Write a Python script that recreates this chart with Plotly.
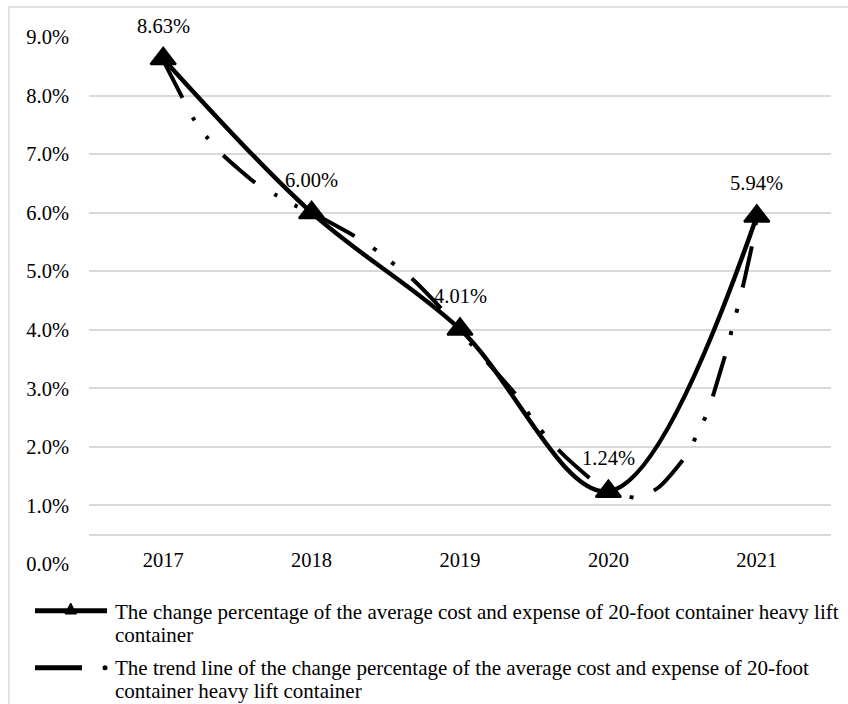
import plotly.graph_objects as go

# Yearly change percentage (%) of the average cost and expense
years = [2017, 2018, 2019, 2020, 2021]
change_pct = [8.63, 6.00, 4.01, 1.24, 5.94]

# Polynomial trend line, sampled along the fitted curve
trend_x = [2017.00, 2017.13, 2017.20, 2017.30, 2017.40, 2017.62, 2017.76, 2017.90,
           2018.00, 2018.06, 2018.31, 2018.44, 2018.56, 2018.69, 2018.89, 2019.00,
           2019.07, 2019.39, 2019.48, 2019.58, 2019.69, 2019.91, 2020.00, 2020.20,
           2020.34, 2020.53, 2020.60, 2020.67, 2020.72, 2020.80, 2020.84, 2020.88,
           2020.92, 2020.98, 2021.00]
trend_y = [8.60, 7.96, 7.62, 7.27, 6.99, 6.51, 6.30, 6.11,
           6.00, 5.92, 5.57, 5.35, 5.11, 4.84, 4.32, 4.01,
           3.77, 2.85, 2.50, 2.18, 1.88, 1.39, 1.25, 1.13,
           1.31, 1.87, 2.23, 2.60, 3.00, 3.68, 4.09, 4.46,
           4.89, 5.59, 5.94]

y_ticks = [0, 1, 2, 3, 4, 5, 6, 7, 8, 9]
y_tick_text = [f"{v:.1f}%" for v in y_ticks]

series_name = "The change percentage of the average cost and expense of 20-foot container heavy lift container"
trend_name = "The trend line of the change percentage of the average cost and expense of 20-foot container heavy lift container"
legend_lines_1 = ["The change percentage of the average cost and expense of 20-foot container heavy lift",
                  "container"]
legend_lines_2 = ["The trend line of the change percentage of the average cost and expense of 20-foot",
                  "container heavy lift container"]

FONT = "Liberation Serif, Times New Roman, serif"
FS = 20.5
FS_LEG = 21
W, H = 848, 704
L, R, T, B = 89, 831, 37, 564


def fx(px):
    return (px - L) / (R - L)


def fy(py):
    return (B - py) / (B - T)


fig = go.Figure()

fig.add_trace(go.Scatter(
    x=trend_x, y=trend_y, name=trend_name, mode="lines",
    line=dict(color="black", width=4, shape="spline", smoothing=0.6,
              dash="42px,22px,4px,19px,4px,22px"),
    showlegend=False, hoverinfo="skip",
))

fig.add_trace(go.Scatter(
    x=years, y=change_pct, name=series_name, mode="lines+markers",
    line=dict(color="black", width=4.5, shape="spline", smoothing=1.0),
    marker=dict(symbol="triangle-up", size=22, color="black",
                line=dict(color="black", width=2)),
    showlegend=False,
))

annotations = []
for yr, v in zip(years, change_pct):
    annotations.append(dict(
        x=yr, y=v, xref="x", yref="y", text=f"{v:.2f}%", showarrow=False,
        yshift=33, yanchor="middle", xanchor="center",
        font=dict(family=FONT, size=FS, color="black"),
    ))

# Legend text
legend_rows = [(legend_lines_1[0], 611.7), (legend_lines_1[1], 635.0),
               (legend_lines_2[0], 667.7), (legend_lines_2[1], 690.7)]
for txt, py in legend_rows:
    annotations.append(dict(
        x=fx(113), y=fy(py), xref="paper", yref="paper", text=txt,
        showarrow=False, xanchor="left", yanchor="middle", align="left",
        font=dict(family=FONT, size=FS_LEG, color="black"),
    ))

shapes = [
    # chart area border
    dict(type="rect", xref="paper", yref="paper",
         x0=fx(9), x1=fx(870), y0=fy(730), y1=fy(7),
         line=dict(color="#d9d9d9", width=1.5), fillcolor="rgba(0,0,0,0)", layer="below"),
    # legend key: data series
    dict(type="line", xref="paper", yref="paper",
         x0=fx(35), x1=fx(107), y0=fy(610.7), y1=fy(610.7),
         line=dict(color="black", width=5)),
    dict(type="path", xref="paper", yref="paper",
         path=f"M{fx(65)},{fy(614)} L{fx(76.5)},{fy(614)} L{fx(70.7)},{fy(603)} Z",
         fillcolor="black", line=dict(color="black", width=1)),
    # legend key: trend line
    dict(type="line", xref="paper", yref="paper",
         x0=fx(35), x1=fx(82), y0=fy(667.7), y1=fy(667.7),
         line=dict(color="black", width=5)),
    dict(type="circle", xref="paper", yref="paper",
         x0=fx(102.5), x1=fx(107.5), y0=fy(670.2), y1=fy(665.2),
         fillcolor="black", line=dict(color="black", width=0)),
]

fig.update_layout(
    width=W, height=H,
    margin=dict(l=L, r=W - R, t=T, b=H - B, pad=0),
    paper_bgcolor="white", plot_bgcolor="white",
    font=dict(family=FONT, size=FS, color="black"),
    annotations=annotations, shapes=shapes,
    showlegend=False,
    xaxis=dict(
        range=[2016.5, 2021.5], tickmode="array", tickvals=years,
        ticktext=[str(y) for y in years], showgrid=False, zeroline=False,
        showline=True, linecolor="#d9d9d9", linewidth=1.5,
        anchor="free", position=0.5 / 9, ticks="",
        ticklabelstandoff=7,
        tickfont=dict(family=FONT, size=FS, color="black"),
    ),
    yaxis=dict(
        range=[0, 9], tickmode="array", tickvals=y_ticks, ticktext=y_tick_text,
        showgrid=True,
        gridcolor="#d9d9d9", gridwidth=1.5, zeroline=False, showline=False,
        ticks="", ticklabelstandoff=19,
        tickfont=dict(family=FONT, size=FS, color="black"),
    ),
)

fig.write_html("out.html")
